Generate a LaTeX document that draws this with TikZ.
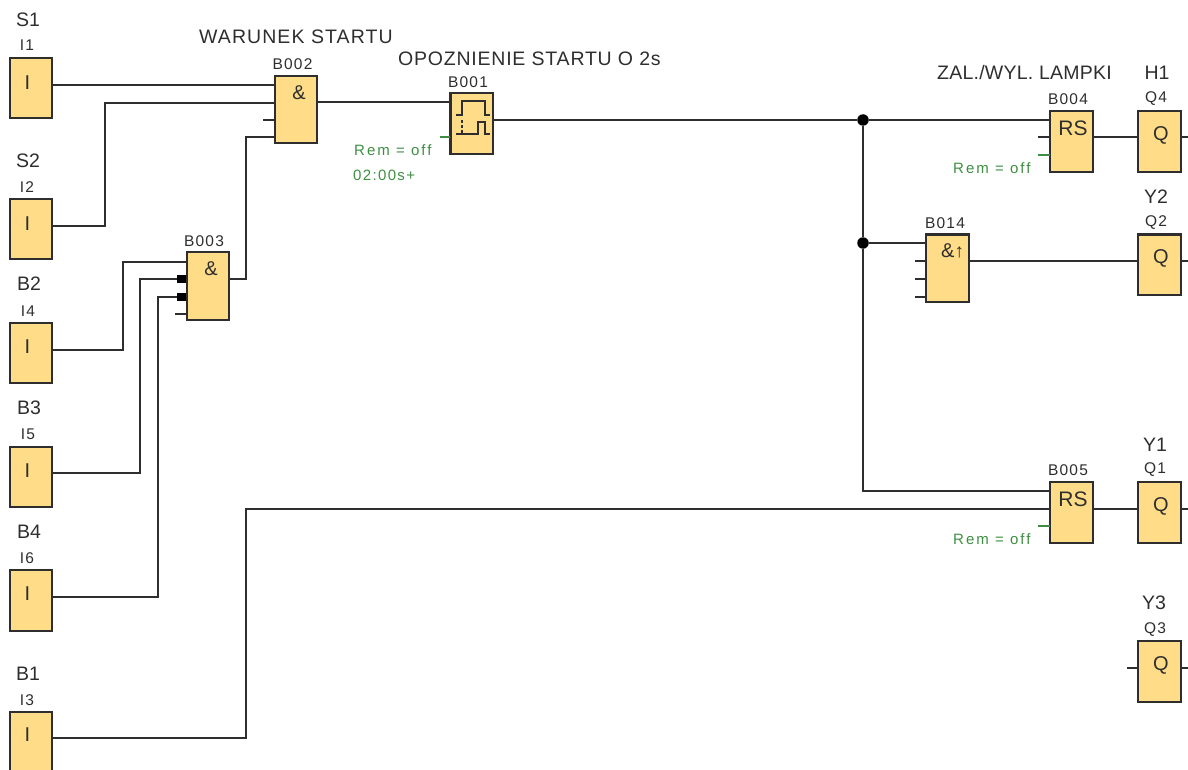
\documentclass[tikz,border=0pt]{standalone}
\usepackage{fontspec}
\setmainfont{Liberation Sans}
\definecolor{blk}{HTML}{FFDC87}
\definecolor{ink}{HTML}{2E2E2E}
\definecolor{rem}{HTML}{3E8E41}
\newcommand{\fsz}[1]{\fontsize{#1}{#1}\selectfont}
\tikzset{
  x=1pt,y=-1pt,
  wire/.style={draw=ink,line width=2.2pt},
  remwire/.style={draw=rem,line width=2pt},
  symline/.style={draw=ink,line width=1.8pt},
  blockbox/.style={draw=ink,fill=blk,line width=2.2pt,minimum width=42.7pt,minimum height=60.7pt,inner sep=0pt,outer sep=0pt},
  tallbox/.style={blockbox,minimum height=67.5pt},
  sym/.style={text=ink,inner sep=0pt,font=\fsz{20}},
  rslabel/.style={text=ink,inner sep=0pt,font=\fsz{21}},
  biglabel/.style={text=ink,inner sep=0pt,font=\fsz{19.5}},
  idlabel/.style={text=ink,inner sep=0pt,font=\fsz{15.5}\addfontfeature{LetterSpace=8}},
  remlabel/.style={text=rem,inner sep=0pt,font=\fsz{15}\addfontfeature{LetterSpace=13.5}},
  timelabel/.style={text=rem,inner sep=0pt,font=\fsz{15}\addfontfeature{LetterSpace=9}},
  dot/.style={circle,fill=black,inner sep=0pt,minimum size=11.5pt},
  pin/.style={fill=black,inner sep=0pt,minimum width=9pt,minimum height=8.5pt}
}
\begin{document}
\begin{tikzpicture}
\useasboundingbox (0,0) rectangle (1188,770);
\clip (0,0) rectangle (1188,770);
% ---- input blocks
\node[blockbox] (I1) at (31,88) {};
\node[blockbox] (I2) at (31,229) {};
\node[blockbox] (I4) at (31,353) {};
\node[blockbox] (I5) at (31,477) {};
\node[blockbox] (I6) at (31,600.5) {};
\node[blockbox] (I3) at (31,742.3) {};
% ---- function blocks
\node[tallbox] (B002) at (296,109.5) {};
\node[tallbox] (B003) at (208,286) {};
\node[tallbox] (B014) at (947.7,268.3) {};
\node[blockbox] (B001) at (471.8,123.5) {};
\node[blockbox] (B004) at (1071.3,141.3) {};
\node[blockbox] (B005) at (1071.3,512.5) {};
% ---- output blocks
\node[blockbox] (Q4) at (1159.3,141.3) {};
\node[blockbox] (Q2) at (1159.3,264.8) {};
\node[blockbox] (Q1) at (1159.3,512.5) {};
\node[blockbox] (Q3) at (1159.3,671.3) {};
% ---- pin coordinates
\coordinate (b2a) at (274.6,85);
\coordinate (b2b) at (274.6,103);
\coordinate (b2c) at (274.6,120);
\coordinate (b2d) at (274.6,137);
\coordinate (b3a) at (186.6,262);
\coordinate (b3b) at (186.6,279);
\coordinate (b3c) at (186.6,297);
\coordinate (b3d) at (186.6,314);
\coordinate (b1a) at (450.4,102);
\coordinate (b1b) at (450.4,137);
\coordinate (b4a) at (1050,120);
\coordinate (b4b) at (1050,137);
\coordinate (b4c) at (1050,155);
\coordinate (b14a) at (926.3,243);
\coordinate (b14b) at (926.3,261);
\coordinate (b14c) at (926.3,279);
\coordinate (b14d) at (926.3,297);
\coordinate (b5a) at (1050,491);
\coordinate (b5b) at (1050,509);
\coordinate (b5c) at (1050,526);
\coordinate (q3a) at (1138,668);
\coordinate (i2o) at (52.4,226);
\coordinate (i4o) at (52.4,350);
\coordinate (i5o) at (52.4,473);
\coordinate (i6o) at (52.4,597);
\coordinate (i3o) at (52.4,738);
\coordinate (b3o) at (229.4,279);
\coordinate (b1o) at (493.2,120);
\coordinate (stubb2) at (263,120);
\coordinate (stubb3) at (175,314);
\coordinate (stubb1) at (440,137);
\coordinate (stubb4) at (1038,137);
\coordinate (stubb4r) at (1038,155);
\coordinate (stub14b) at (915,261);
\coordinate (stub14c) at (915,279);
\coordinate (stub14d) at (915,297);
\coordinate (stubb5) at (1038,526);
\coordinate (stubq3) at (1127,668);
\coordinate (edge4) at (1188,137);
\coordinate (edge2) at (1188,261);
\coordinate (edge1) at (1188,509);
\coordinate (edge3) at (1188,668);
% ---- junctions
\node[dot] (j1) at (863,120) {};
\node[dot] (j2) at (863,243) {};
% ---- wires
\draw[wire] (b2a -| I1.east) -- (b2a);
\draw[wire] (i2o) -- (105,226) -- (105,103) -- (b2b);
\draw[wire] (stubb2) -- (b2c);
\draw[wire] (b3o) -- (246,279) -- (246,137) -- (b2d);
\draw[wire] (i4o) -- (123,350) -- (123,262) -- (b3a);
\draw[wire] (i5o) -- (140,473) -- (140,279) -- (b3b);
\draw[wire] (i6o) -- (158,597) -- (158,297) -- (b3c);
\draw[wire] (stubb3) -- (b3d);
\draw[wire] (b1a -| B002.east) -- (b1a);
\draw[remwire] (stubb1) -- (b1b);
\draw[wire] (b1o) -- (j1) -- (b4a);
\draw[wire] (stubb4) -- (b4b);
\draw[remwire] (stubb4r) -- (b4c);
\draw[wire] (j1) -- (j2);
\draw[wire] (j2) -- (b14a);
\draw[wire] (j2) -- (863,491) -- (b5a);
\draw[wire] (stub14b) -- (b14b);
\draw[wire] (stub14c) -- (b14c);
\draw[wire] (stub14d) -- (b14d);
\draw[wire] (i3o) -- (246,738) -- (246,509) -- (b5b);
\draw[remwire] (stubb5) -- (b5c);
\draw[wire] (b4b -| B004.east) -- (b4b -| Q4.west);
\draw[wire] (b14b -| B014.east) -- (b14b -| Q2.west);
\draw[wire] (b5b -| B005.east) -- (b5b -| Q1.west);
\draw[wire] (stubq3) -- (q3a);
\draw[wire] (edge4 -| Q4.east) -- (edge4);
\draw[wire] (edge2 -| Q2.east) -- (edge2);
\draw[wire] (edge1 -| Q1.east) -- (edge1);
\draw[wire] (edge3 -| Q3.east) -- (edge3);
% ---- negation pins
\node[pin] (n1) at (181.5,279) {};
\node[pin] (n2) at (181.5,297) {};
% ---- timer symbol
\draw[symline] (456,115) -- (462,115) -- (462,101) -- (485,101) -- (485,115) -- (490,115);
\draw[symline] (456,134) -- (478,134) -- (478,122) -- (485,122) -- (485,134) -- (490,134);
\draw[symline,dash pattern=on 3pt off 2pt] (462,120) -- (462,134);
% ---- block symbols
\node[sym] (sI1) at (27.5,83) {I};
\node[sym] (sI2) at (27.5,224) {I};
\node[sym] (sI4) at (27.5,347) {I};
\node[sym] (sI5) at (27.5,471) {I};
\node[sym] (sI6) at (27.5,594) {I};
\node[sym] (sI3) at (27.5,735) {I};
\node[sym] (s2) at (299,93) {\&};
\node[sym] (s3) at (211,269) {\&};
\node[sym,anchor=west] (s14) at (941,251) {\&\fsz{19}↑};
\node[rslabel] (s4) at (1073,128) {RS};
\node[rslabel] (s5) at (1073,499) {RS};
\node[sym] (sq4) at (1161,135) {Q};
\node[sym] (sq2) at (1161,258) {Q};
\node[sym] (sq1) at (1161,506) {Q};
\node[sym] (sq3) at (1161,665) {Q};
% ---- large labels
\node[biglabel] (lS1) at (28,20) {S1};
\node[biglabel] (lS2) at (28,161) {S2};
\node[biglabel] (lB2) at (29,284) {B2};
\node[biglabel] (lB3) at (29,408) {B3};
\node[biglabel] (lB4) at (29,532) {B4};
\node[biglabel] (lB1) at (28,674) {B1};
\node[biglabel] (lH1) at (1157,73) {H1};
\node[biglabel] (lY2) at (1156,197) {Y2};
\node[biglabel] (lY1) at (1155,445) {Y1};
\node[biglabel] (lY3) at (1154,603) {Y3};
\node[biglabel,anchor=west,font=\fsz{19.5}\addfontfeature{LetterSpace=5.5}] (tw) at (199,37) {WARUNEK STARTU};
\node[biglabel,anchor=west,font=\fsz{19.5}\addfontfeature{LetterSpace=4}] (to) at (398,59) {OPOZNIENIE STARTU O 2s};
\node[biglabel,anchor=west,font=\fsz{19.5}\addfontfeature{LetterSpace=1.2}] (tz) at (937,73) {ZAL./WYL. LAMPKI};
% ---- id labels
\node[idlabel] (tI1) at (27,45.5) {I1};
\node[idlabel] (tI2) at (27,187.5) {I2};
\node[idlabel] (tI4) at (28,311) {I4};
\node[idlabel] (tI5) at (28,434.5) {I5};
\node[idlabel] (tI6) at (27,558.5) {I6};
\node[idlabel] (tI3) at (27,700) {I3};
\node[idlabel] (tB2) at (292.5,64) {B002};
\node[idlabel] (tB3) at (204,241) {B003};
\node[idlabel] (tB1) at (468,82) {B001};
\node[idlabel] (tB4) at (1068,99) {B004};
\node[idlabel] (tB14) at (945,223) {B014};
\node[idlabel] (tB5) at (1068,470) {B005};
\node[idlabel] (tQ4) at (1156,99) {Q4};
\node[idlabel] (tQ2) at (1156,223) {Q2};
\node[idlabel] (tQ1) at (1155,470) {Q1};
\node[idlabel] (tQ3) at (1155,630) {Q3};
% ---- parameter labels
\node[remlabel,anchor=west] (r1) at (354,150) {Rem = off};
\node[timelabel,anchor=west] (r2) at (353,175) {02:00s+};
\node[remlabel,anchor=west] (r4) at (953,168) {Rem = off};
\node[remlabel,anchor=west] (r5) at (953,539) {Rem = off};
\end{tikzpicture}
\end{document}
